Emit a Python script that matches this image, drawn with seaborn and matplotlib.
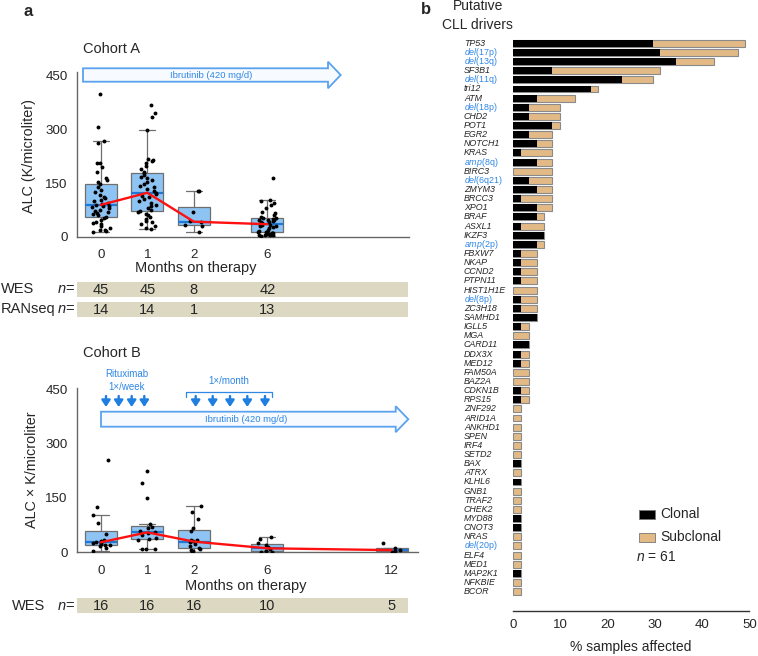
import numpy as np
import pandas as pd
import matplotlib
matplotlib.use("Agg")
import matplotlib.pyplot as plt
import seaborn as sns
from matplotlib.patches import Polygon, Rectangle
from matplotlib.lines import Line2D

# ---- data: cohort A (ALC, K/microliter) ----
a_m0 = [14, 15, 18, 20, 25, 30, 35, 38, 42, 48, 52, 56, 60, 63, 66, 70, 73, 76, 80, 83, 85, 87, 89,
        92, 95, 100, 104, 108, 112, 118, 125, 132, 140, 147, 152, 158, 165, 180, 195, 205, 207,
        262, 268, 307, 400]
a_m1 = [21, 25, 30, 35, 40, 45, 50, 55, 60, 64, 68, 72, 76, 80, 85, 90, 95, 100, 105, 110, 115, 119,
        123, 128, 133, 138, 142, 147, 152, 158, 163, 168, 172, 177, 182, 190, 198, 205, 212, 215,
        218, 298, 335, 345, 370]
a_m2 = [12, 30, 34, 40, 44, 70, 128, 129]
a_m6 = [3, 4, 5, 5, 6, 7, 8, 9, 10, 11, 12, 12.5, 14, 17, 20, 23, 26, 29, 31, 33, 34, 36, 38, 40,
        42, 44, 46, 47, 48, 49, 51, 52, 55, 60, 65, 70, 80, 90, 95, 100, 103, 165]
months_a = [0, 1, 2, 6]
wes_a = [45, 45, 8, 42]
rna_a = [14, 14, 1, 13]

# ---- data: cohort B ----
b_m0 = [3, 12, 17, 20, 20.5, 23, 25, 27, 28, 30, 33, 50, 82, 102, 126, 254]
b_m1 = [9, 9, 10, 35, 37.5, 40, 48, 54, 56, 60, 66, 70, 77, 150, 190, 225]
b_m2 = [2, 3, 5, 10, 12.7, 16, 22, 28, 31, 35, 35, 58, 68, 93, 110, 127]
b_m6 = [1, 2, 3, 3, 8, 14, 20, 25, 38, 43]
b_m12 = [1, 3, 6, 12, 26]
months_b = [0, 1, 2, 6, 12]
wes_b = [16, 16, 16, 10, 5]

# ---- data: putative CLL drivers (sample counts, n = 61) ----
n_total = 61
drivers = ["TP53", "del(17p)", "del(13q)", "SF3B1", "del(11q)", "tri12", "ATM", "del(18p)", "CHD2",
           "POT1", "EGR2", "NOTCH1", "KRAS", "amp(8q)", "BIRC3", "del(6q21)", "ZMYM3", "BRCC3",
           "XPO1", "BRAF", "ASXL1", "IKZF3", "amp(2p)", "FBXW7", "NKAP", "CCND2", "PTPN11",
           "HIST1H1E", "del(8p)", "ZC3H18", "SAMHD1", "IGLL5", "MGA", "CARD11", "DDX3X", "MED12",
           "FAM50A", "BAZ2A", "CDKN1B", "RPS15", "ZNF292", "ARID1A", "ANKHD1", "SPEN", "IRF4",
           "SETD2", "BAX", "ATRX", "KLHL6", "GNB1", "TRAF2", "CHEK2", "MYD88", "CNOT3", "NRAS",
           "del(20p)", "ELF4", "MED1", "MAP2K1", "NFKBIE", "BCOR"]
clonal = [18, 19, 21, 5, 14, 10, 3, 2, 2, 5, 2, 3, 1, 3, 0, 2, 3, 1, 3, 3, 1, 4, 3, 1, 1, 1, 1,
          0, 1, 1, 3, 1, 0, 2, 1, 1, 0, 0, 1, 1, 0, 0, 0, 0, 0, 0, 1, 0, 1, 0, 0, 0, 1, 1, 0,
          0, 0, 0, 1, 0, 0]
subclonal = [12, 10, 5, 14, 4, 1, 5, 4, 4, 1, 3, 2, 4, 2, 5, 3, 2, 4, 2, 1, 3, 0, 1, 2, 2, 2, 2,
             3, 2, 2, 0, 1, 2, 0, 1, 1, 2, 2, 1, 1, 1, 1, 1, 1, 1, 1, 0, 1, 0, 1, 1, 1, 0, 0, 1,
             1, 1, 1, 0, 1, 1]

# ---- style ----
sns.set_style("white")
plt.rcParams["font.family"] = ["Liberation Sans", "DejaVu Sans"]
plt.rcParams["mathtext.fontset"] = "custom"
plt.rcParams["mathtext.it"] = "Liberation Sans:italic"
plt.rcParams["mathtext.rm"] = "Liberation Sans"

W, H = 758, 656
BLUE = "#2F87E6"
BOX = "#8EC4F4"
TAN = "#E3BA86"
BAND = "#DCD8C2"
POS = {0: 0, 1: 1, 2: 2, 6: 3.575, 12: 6.245}

fig = plt.figure(figsize=(W / 100, H / 100), dpi=100)


def add_ax(l, t, r, b):
    return fig.add_axes([l / W, 1 - b / H, (r - l) / W, (b - t) / H])


def ftext(x, y, s, **kw):
    kw.setdefault("va", "center")
    fig.text(x / W, 1 - y / H, s, **kw)


def block_arrow(x0, x1, yc, bh, hh, hx):
    pts = [(x0, yc - bh), (hx, yc - bh), (hx, yc - hh), (x1, yc), (hx, yc + hh),
           (hx, yc + bh), (x0, yc + bh)]
    pts = [(x / W, 1 - y / H) for x, y in pts]
    fig.add_artist(Polygon(pts, closed=True, transform=fig.transFigure,
                           facecolor="#F7FBFF", edgecolor="#5AA2EE", lw=1.3))


def cohort_panel(ax, series, months, xmax, ylim):
    df = pd.DataFrame({
        "pos": np.concatenate([[POS[m]] * len(v) for m, v in zip(months, series)]),
        "alc": np.concatenate(series),
    })
    sns.boxplot(data=df, x="pos", y="alc", native_scale=True, orient="x", width=0.68,
                color=BOX, saturation=1, linecolor="#6f6f6f", linewidth=0.9, showfliers=False,
                whis=1.5, medianprops=dict(color="#1F78D6", linewidth=1.6), ax=ax)
    np.random.seed(7)
    sns.stripplot(data=df, x="pos", y="alc", native_scale=True, orient="x", color="black",
                  size=2.8, jitter=0.2, ax=ax, zorder=3)
    med = df.groupby("pos")["alc"].median()
    sns.lineplot(x=med.index, y=med.values, color="#FF1010", linewidth=1.7, ax=ax, zorder=4)
    ax.set_xlim(-0.502, xmax)
    ax.set_ylim(0, ylim)
    ax.set_xticks([POS[m] for m in months], [str(m) for m in months])
    ax.set_yticks([0, 150, 300, 450])
    ax.set_xlabel("")
    ax.set_ylabel("")
    for s in ["top", "right"]:
        ax.spines[s].set_visible(False)
    for s in ["left", "bottom"]:
        ax.spines[s].set_color("#666666")
        ax.spines[s].set_linewidth(1.0)
    ax.tick_params(axis="y", direction="in", length=4, pad=7, labelsize=9.6, color="#666666")
    ax.tick_params(axis="x", direction="out", length=3, pad=6, labelsize=9.6, color="#666666")


def band(t, b, counts, months, label, lx):
    bx = add_ax(77.3, t, 408.3, b)
    bx.set_facecolor(BAND)
    bx.set_xlim(-0.502, 6.60)
    bx.set_ylim(0, 1)
    bx.set_xticks([])
    bx.set_yticks([])
    for s in bx.spines.values():
        s.set_visible(False)
    for m, c in zip(months, counts):
        bx.text(POS[m], 0.45, str(c), ha="center", va="center", fontsize=10.5)
    yc = (t + b) / 2
    ftext(lx, yc, label, ha="left", fontsize=10.5)
    ftext(75, yc, r"$n$=", ha="right", fontsize=10.5)


# ---- cohort A ----
axa = add_ax(77.3, 71.7, 409, 236.7)
cohort_panel(axa, [a_m0, a_m1, a_m2, a_m6], months_a, 6.616, 462)
ftext(83, 49, "Cohort A", ha="left", fontsize=10.5)
ftext(24, 12, "a", ha="left", fontsize=12, fontweight="bold")
ftext(29, 156, "ALC (K/microliter)", ha="center", rotation=90, fontsize=10.4)
ftext(196, 268, "Months on therapy", ha="center", fontsize=10.5)
block_arrow(83, 340.7, 75, 6.7, 13.3, 328)
ftext(211, 75.5, "Ibrutinib (420 mg/d)", ha="center", fontsize=6.8, color=BLUE)
band(281.7, 296.7, wes_a, months_a, "WES", 1)
band(301.7, 316.7, rna_a, months_a, "RANseq", 1)

# ---- cohort B ----
axb = add_ax(77.3, 388.3, 418, 552.3)
cohort_panel(axb, [b_m0, b_m1, b_m2, b_m6, b_m12], months_b, 6.809, 452)
ftext(83, 353.5, "Cohort B", ha="left", fontsize=10.5)
ftext(32, 470, "ALC × K/microliter", ha="center", rotation=90, fontsize=10.4)
ftext(246, 586, "Months on therapy", ha="center", fontsize=10.5)
block_arrow(101, 408.3, 419.2, 7.5, 13, 395.7)
ftext(246, 419.5, "Ibrutinib (420 mg/d)", ha="center", fontsize=6.8, color=BLUE)
ftext(127, 374, "Rituximab", ha="center", fontsize=7, color=BLUE)
ftext(127, 387.5, "1×/week", ha="center", fontsize=7, color=BLUE)
ftext(229, 381, "1×/month", ha="center", fontsize=7, color=BLUE)
fig.add_artist(Line2D([186 / W, 186 / W, 271.7 / W, 271.7 / W],
                      [1 - 396.7 / H, 1 - 392.3 / H, 1 - 392.3 / H, 1 - 396.7 / H],
                      transform=fig.transFigure, color=BLUE, lw=0.9))
for xa in [106, 118.7, 131.7, 144.3, 195.7, 212.7, 230, 247.3, 265]:
    fig.add_artist(matplotlib.patches.FancyArrowPatch(
        (xa / W, 1 - 396 / H), (xa / W, 1 - 407 / H), transform=fig.transFigure,
        arrowstyle="-|>,head_width=0.4,head_length=0.6", mutation_scale=6.5,
        color="#1E7FE0", lw=1.7, shrinkA=0, shrinkB=0))
band(597.7, 613.3, wes_b, months_b, "WES", 12)

# ---- panel b: drivers ----
axd = add_ax(513.3, 37.8, 749.3, 610.5)
dd = pd.DataFrame({"driver": drivers,
                   "clonal": np.array(clonal) / n_total * 100,
                   "total": (np.array(clonal) + np.array(subclonal)) / n_total * 100})
sns.barplot(data=dd, x="total", y="driver", order=drivers, orient="y", color=TAN, saturation=1,
            width=0.76, edgecolor="#8a8a8a", linewidth=0.8, errorbar=None, ax=axd)
sns.barplot(data=dd, x="clonal", y="driver", order=drivers, orient="y", color="black",
            saturation=1, width=0.76, linewidth=0, errorbar=None, ax=axd)
axd.set_xlim(0, 50)
axd.set_ylim(62.06, -0.6)
axd.set_xticks([0, 10, 20, 30, 40, 50])
axd.set_xlabel("")
axd.set_ylabel("")
labels = []
for d in drivers:
    if d.startswith("del") or d.startswith("amp"):
        labels.append(r"$\mathit{" + d[:3] + "}$" + d[3:])
    else:
        labels.append(d)
axd.set_yticks(range(len(drivers)), labels)
for lbl, d in zip(axd.get_yticklabels(), drivers):
    lbl.set_ha("left")
    lbl.set_va("center")
    if d.startswith("del") or d.startswith("amp"):
        lbl.set_color(BLUE)
    else:
        lbl.set_fontstyle("italic")
axd.tick_params(axis="y", length=0, pad=35.5, labelsize=6.4)
axd.tick_params(axis="x", direction="in", length=4.5, pad=6, labelsize=9.5, color="#333333")
for s in ["top", "right", "left"]:
    axd.spines[s].set_visible(False)
axd.spines["bottom"].set_color("#333333")
axd.spines["bottom"].set_linewidth(1.0)
ftext(631, 646.5, "% samples affected", ha="center", fontsize=10)
ftext(478, 6.5, "Putative", ha="center", fontsize=10)
ftext(477, 25, "CLL drivers", ha="center", fontsize=10)
ftext(421, 10, "b", ha="left", fontsize=12, fontweight="bold")

# legend
for yc, col, txt in [(514.3, "black", "Clonal"), (537.3, TAN, "Subclonal")]:
    fig.add_artist(Rectangle((639 / W, 1 - (yc + 4.7) / H), 16 / W, 9.4 / H,
                             transform=fig.transFigure, facecolor=col, edgecolor="#777777",
                             lw=0.6))
    ftext(660, yc, txt, ha="left", fontsize=10)
ftext(636, 557, r"$n$ = 61", ha="left", fontsize=10)

fig.savefig("out.png", dpi=100)
